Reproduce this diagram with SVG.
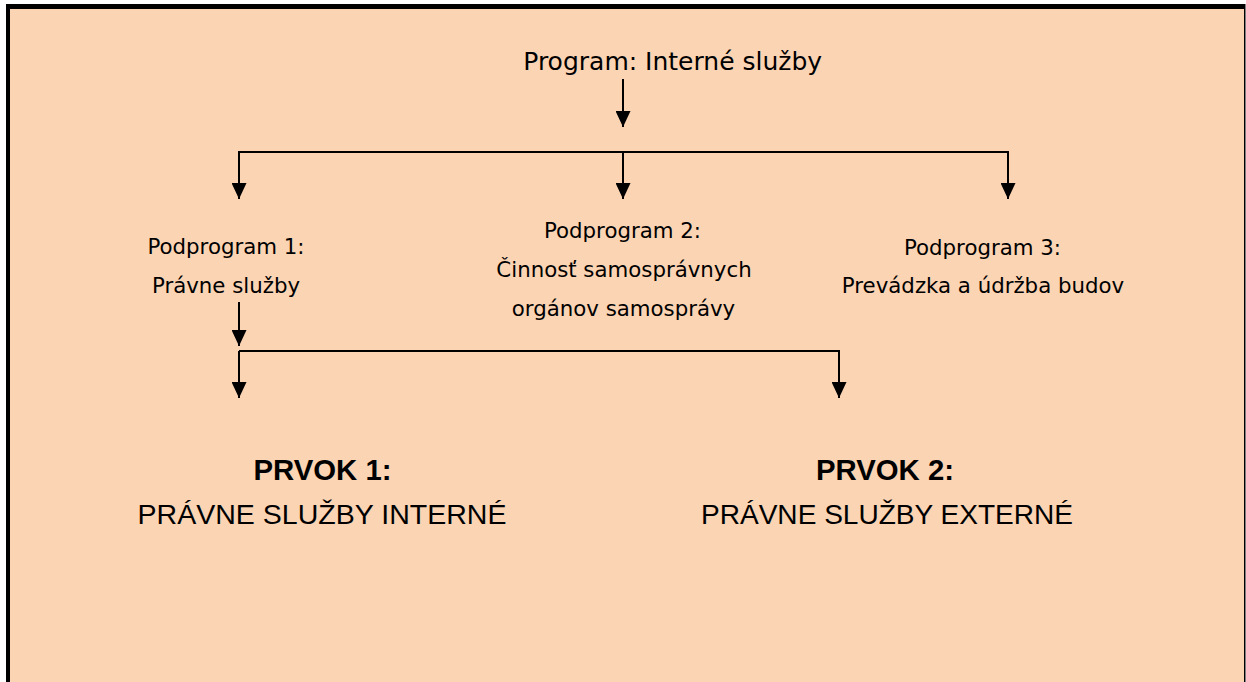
<svg xmlns="http://www.w3.org/2000/svg" width="1246" height="682" viewBox="0 0 1246 682">
  <defs>
    <style>
      .conn { fill: none; stroke: #000; stroke-width: 2; marker-end: url(#arrow); }
      .sub { font-family: "DejaVu Sans", Verdana, sans-serif; font-size: 21.3px; fill: #000; text-anchor: middle; }
      .top { font-family: "DejaVu Sans", sans-serif; font-size: 25px; fill: #000; text-anchor: middle; }
      .head { font-family: "Liberation Sans", Arial, sans-serif; font-size: 29.5px; font-weight: bold; fill: #000; text-anchor: middle; }
      .cap { font-family: "Liberation Sans", Arial, sans-serif; font-size: 28.5px; fill: #000; text-anchor: middle; }
    </style>
    <marker id="arrow" viewBox="0 0 16 15" refX="16" refY="7.5" markerWidth="16" markerHeight="15" markerUnits="userSpaceOnUse" orient="auto">
      <path d="M0,0 L16,7.5 L0,15 Z" fill="#000"/>
    </marker>
  </defs>

  <rect x="0" y="0" width="1246" height="682" fill="#ffffff"/>
  <rect x="6" y="4" width="1239.5" height="678" fill="#000000"/>
  <rect x="10" y="9" width="1234" height="673" fill="#FBD4B4"/>

  <g id="connectors">
    <path class="conn" d="M623,79 V127"/>
    <path class="conn" d="M623,152 H239 V199"/>
    <path class="conn" d="M623,152 V199"/>
    <path class="conn" d="M623,152 H1008 V199"/>
    <path class="conn" d="M239,302 V346"/>
    <path class="conn" d="M239,351 V398"/>
    <path class="conn" d="M239,351 H839 V398"/>
  </g>

  <g id="program">
    <text class="top" x="672.7" y="69.5">Program: Interné služby</text>
  </g>

  <g id="podprogram1">
    <text class="sub" x="226" y="254">Podprogram 1:</text>
    <text class="sub" x="226" y="293">Právne služby</text>
  </g>

  <g id="podprogram2">
    <text class="sub" x="622.5" y="237.5">Podprogram 2:</text>
    <text class="sub" x="624" y="276.5">Činnosť samosprávnych</text>
    <text class="sub" x="623.5" y="316">orgánov samosprávy</text>
  </g>

  <g id="podprogram3">
    <text class="sub" x="982.5" y="255">Podprogram 3:</text>
    <text class="sub" x="983" y="293">Prevádzka a údržba budov</text>
  </g>

  <g id="prvok1">
    <text class="head" x="322.5" y="480" textLength="138" lengthAdjust="spacingAndGlyphs">PRVOK 1:</text>
    <text class="cap" x="322" y="524" textLength="369" lengthAdjust="spacingAndGlyphs">PRÁVNE SLUŽBY INTERNÉ</text>
  </g>

  <g id="prvok2">
    <text class="head" x="885" y="480" textLength="138" lengthAdjust="spacingAndGlyphs">PRVOK 2:</text>
    <text class="cap" x="887" y="524" textLength="372" lengthAdjust="spacingAndGlyphs">PRÁVNE SLUŽBY EXTERNÉ</text>
  </g>
</svg>
